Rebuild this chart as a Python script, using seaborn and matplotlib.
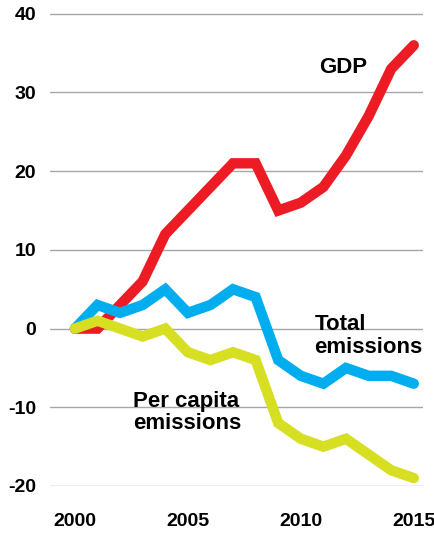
import matplotlib
matplotlib.use("Agg")
import matplotlib.pyplot as plt
import pandas as pd
import seaborn as sns

years = list(range(2000, 2016))
gdp = [0, 0, 3, 6, 12, 15, 18, 21, 21, 15, 16, 18, 22, 27, 33, 36]
total_emissions = [0, 3, 2, 3, 5, 2, 3, 5, 4, -4, -6, -7, -5, -6, -6, -7]
per_capita_emissions = [0, 1, 0, -1, 0, -3, -4, -3, -4, -12, -14, -15, -14, -16, -18, -19]

x_ticks = [2000, 2005, 2010, 2015]
y_ticks = [-20, -10, 0, 10, 20, 30, 40]

COLORS = {
    "GDP": "#ED1C24",
    "Total emissions": "#00AEEF",
    "Per capita emissions": "#D7DF23",
}

df = pd.DataFrame({
    "year": years * 3,
    "value": gdp + total_emissions + per_capita_emissions,
    "series": ["GDP"] * 16 + ["Total emissions"] * 16 + ["Per capita emissions"] * 16,
})

sns.set_style("white")
plt.rcParams["font.family"] = ["Liberation Sans", "DejaVu Sans"]
plt.rcParams["text.color"] = "black"

fig = plt.figure(figsize=(4.35, 5.34), dpi=100)
ax = fig.add_axes([0.115, 0.0899, 0.857, 0.899])

# red first, yellow last (yellow sits on top)
sns.lineplot(data=df, x="year", y="value", hue="series", palette=COLORS,
             hue_order=["GDP", "Total emissions", "Per capita emissions"],
             linewidth=7.5, legend=False, ax=ax, clip_on=False,
             solid_capstyle="round", solid_joinstyle="miter")

ax.set_xlim(1998.9, 2015.4)
ax.set_ylim(-20, 41)
ax.set_xticks(x_ticks)
ax.set_yticks(y_ticks)
ax.set_xticklabels([str(t) for t in x_ticks], fontsize=14, fontweight="bold")
ax.set_yticklabels([str(t) for t in y_ticks], fontsize=14, fontweight="bold")
ax.yaxis.grid(True, color="#a6a6a6", linewidth=1)
ax.set_axisbelow(True)
ax.tick_params(axis="x", direction="inout", length=11, width=1, color="#333333",
               pad=14, labelcolor="black")
ax.tick_params(axis="y", length=0, pad=10, labelcolor="black")
for s in ax.spines.values():
    s.set_visible(False)
ax.set_xlabel("")
ax.set_ylabel("")

# va="baseline" on multi-line text aligns the last line
label_kw = dict(fontsize=16, fontweight="bold", va="baseline", linespacing=1.1, color="black")
ax.text(2010.8, 32.5, "GDP", **label_kw)
ax.text(2010.6, -3.05, "Total\nemissions", **label_kw)
ax.text(2002.56, -12.8, "Per capita\nemissions", **label_kw)

plt.savefig("out.png", dpi=100)
plt.close()
